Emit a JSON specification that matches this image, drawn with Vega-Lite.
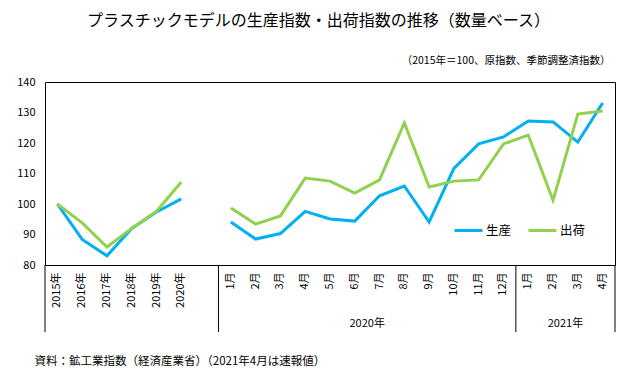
{
  "$schema": "https://vega.github.io/schema/vega-lite/v6.json",
  "autosize": {"type": "none"},
  "width": 570,
  "height": 183,
  "padding": {"left": 45, "top": 82, "right": 19, "bottom": 124},
  "background": "white",
  "config": {
    "font": "Noto Sans CJK JP",
    "view": {"stroke": "black", "strokeWidth": 1},
    "axis": {"grid": false, "ticks": false, "domain": false, "labelOverlap": false, "labelColor": "black", "titleColor": "black", "labelFont": "Noto Sans CJK JP", "titleFont": "Noto Sans CJK JP", "titleFontWeight": "normal"}
  },
  "title": {
    "text": "プラスチックモデルの生産指数・出荷指数の推移（数量ベース）",
    "anchor": "start",
    "frame": "group",
    "dx": 42,
    "offset": 26,
    "fontSize": 16,
    "fontWeight": "normal",
    "color": "black",
    "font": "Noto Sans CJK JP"
  },
  "layer": [
    {
      "data": {"values": [
        {"key": "2015", "series": "生産", "period": "年", "value": 100.0},
        {"key": "2016", "series": "生産", "period": "年", "value": 88.4},
        {"key": "2017", "series": "生産", "period": "年", "value": 83.0},
        {"key": "2018", "series": "生産", "period": "年", "value": 92.0},
        {"key": "2019", "series": "生産", "period": "年", "value": 97.4},
        {"key": "2020", "series": "生産", "period": "年", "value": 101.7},
        {"key": "2020-01", "series": "生産", "period": "月", "value": 94.1},
        {"key": "2020-02", "series": "生産", "period": "月", "value": 88.5},
        {"key": "2020-03", "series": "生産", "period": "月", "value": 90.3},
        {"key": "2020-04", "series": "生産", "period": "月", "value": 97.6},
        {"key": "2020-05", "series": "生産", "period": "月", "value": 95.1},
        {"key": "2020-06", "series": "生産", "period": "月", "value": 94.4},
        {"key": "2020-07", "series": "生産", "period": "月", "value": 102.7},
        {"key": "2020-08", "series": "生産", "period": "月", "value": 105.9},
        {"key": "2020-09", "series": "生産", "period": "月", "value": 94.1},
        {"key": "2020-10", "series": "生産", "period": "月", "value": 111.7},
        {"key": "2020-11", "series": "生産", "period": "月", "value": 119.7},
        {"key": "2020-12", "series": "生産", "period": "月", "value": 122.0},
        {"key": "2021-01", "series": "生産", "period": "月", "value": 127.2},
        {"key": "2021-02", "series": "生産", "period": "月", "value": 126.9},
        {"key": "2021-03", "series": "生産", "period": "月", "value": 120.3},
        {"key": "2021-04", "series": "生産", "period": "月", "value": 133.1},
        {"key": "2015", "series": "出荷", "period": "年", "value": 100.0},
        {"key": "2016", "series": "出荷", "period": "年", "value": 93.8},
        {"key": "2017", "series": "出荷", "period": "年", "value": 85.9},
        {"key": "2018", "series": "出荷", "period": "年", "value": 92.0},
        {"key": "2019", "series": "出荷", "period": "年", "value": 97.6},
        {"key": "2020", "series": "出荷", "period": "年", "value": 107.2},
        {"key": "2020-01", "series": "出荷", "period": "月", "value": 98.7},
        {"key": "2020-02", "series": "出荷", "period": "月", "value": 93.4},
        {"key": "2020-03", "series": "出荷", "period": "月", "value": 96.1},
        {"key": "2020-04", "series": "出荷", "period": "月", "value": 108.5},
        {"key": "2020-05", "series": "出荷", "period": "月", "value": 107.5},
        {"key": "2020-06", "series": "出荷", "period": "月", "value": 103.6},
        {"key": "2020-07", "series": "出荷", "period": "月", "value": 107.9},
        {"key": "2020-08", "series": "出荷", "period": "月", "value": 126.6},
        {"key": "2020-09", "series": "出荷", "period": "月", "value": 105.6},
        {"key": "2020-10", "series": "出荷", "period": "月", "value": 107.5},
        {"key": "2020-11", "series": "出荷", "period": "月", "value": 107.9},
        {"key": "2020-12", "series": "出荷", "period": "月", "value": 119.7},
        {"key": "2021-01", "series": "出荷", "period": "月", "value": 122.6},
        {"key": "2021-02", "series": "出荷", "period": "月", "value": 101.2},
        {"key": "2021-03", "series": "出荷", "period": "月", "value": 129.5},
        {"key": "2021-04", "series": "出荷", "period": "月", "value": 130.5}
      ]},
      "mark": {"type": "line", "strokeWidth": 3},
      "encoding": {
        "x": {
          "field": "key", "type": "ordinal", "bandPosition": 0.5,
          "scale": {"type": "band", "paddingInner": 0, "paddingOuter": 0,
            "domain": ["2015", "2016", "2017", "2018", "2019", "2020", "gap", "2020-01", "2020-02", "2020-03", "2020-04", "2020-05", "2020-06", "2020-07", "2020-08", "2020-09", "2020-10", "2020-11", "2020-12", "2021-01", "2021-02", "2021-03", "2021-04"]},
          "axis": {
            "labelAngle": -90, "labelFontSize": 11, "labelPadding": 7, "labelOverlap": false,
            "labelExpr": "datum.value == 'gap' ? '' : (length(datum.value) > 4 ? toNumber(substring(datum.value, 5)) + '月' : datum.value + '年')",
            "title": "資料：鉱工業指数（経済産業省）（2021年4月は速報値）",
            "titleFontSize": 11.5, "titleX": -11, "titleY": 96, "titleAlign": "left", "titleBaseline": "middle", "titleAnchor": "start"
          }
        },
        "y": {
          "field": "value", "type": "quantitative",
          "scale": {"domain": [80, 140], "nice": false, "zero": false},
          "axis": {
            "values": [80, 90, 100, 110, 120, 130, 140], "tickCount": 7, "labelFontSize": 11, "labelPadding": 10, "labelOverlap": false,
            "title": "（2015年＝100、原指数、季節調整済指数）",
            "titleAngle": 0, "titleFontSize": 10.5, "titleX": 565, "titleY": -22, "titleAlign": "right", "titleBaseline": "middle"
          }
        },
        "color": {
          "field": "series", "type": "nominal",
          "scale": {"domain": ["生産", "出荷"], "range": ["#00B0F0", "#92D050"]},
          "legend": {
            "title": null, "orient": "none", "direction": "horizontal", "legendX": 408, "legendY": 133,
            "symbolType": "stroke", "symbolSize": 784, "symbolStrokeWidth": 3, "labelFontSize": 12.5,
            "labelColor": "black", "labelOffset": 2, "columnSpacing": 15, "padding": 0
          }
        },
        "detail": {"field": "period", "type": "nominal"}
      }
    },
    {
      "data": {"values": [{"key": "2015"}, {"key": "2020-01"}, {"key": "2021-01"}]},
      "mark": {"type": "rule", "color": "black", "strokeWidth": 1},
      "encoding": {
        "x": {"field": "key", "type": "ordinal", "bandPosition": 0},
        "y": {"datum": 80, "type": "quantitative", "axis": {"values": [80, 90, 100, 110, 120, 130, 140], "tickCount": 7, "labelOverlap": false}},
        "y2": {"datum": 58}
      }
    },
    {
      "data": {"values": [{"key": "2021-04"}]},
      "mark": {"type": "rule", "color": "black", "strokeWidth": 1},
      "encoding": {
        "x": {"field": "key", "type": "ordinal", "bandPosition": 1},
        "y": {"datum": 80, "type": "quantitative", "axis": {"values": [80, 90, 100, 110, 120, 130, 140], "tickCount": 7, "labelOverlap": false}},
        "y2": {"datum": 58}
      }
    },
    {
      "data": {"values": [{"key": "2020-06", "label": "2020年"}, {"key": "2021-02", "label": "2021年"}]},
      "mark": {"type": "text", "fontSize": 11, "baseline": "middle", "align": "center", "color": "black"},
      "encoding": {
        "x": {"field": "key", "type": "ordinal", "bandPosition": 1},
        "y": {"datum": 60.7, "type": "quantitative", "axis": {"values": [80, 90, 100, 110, 120, 130, 140], "tickCount": 7, "labelOverlap": false}},
        "text": {"field": "label"}
      }
    }
  ]
}
